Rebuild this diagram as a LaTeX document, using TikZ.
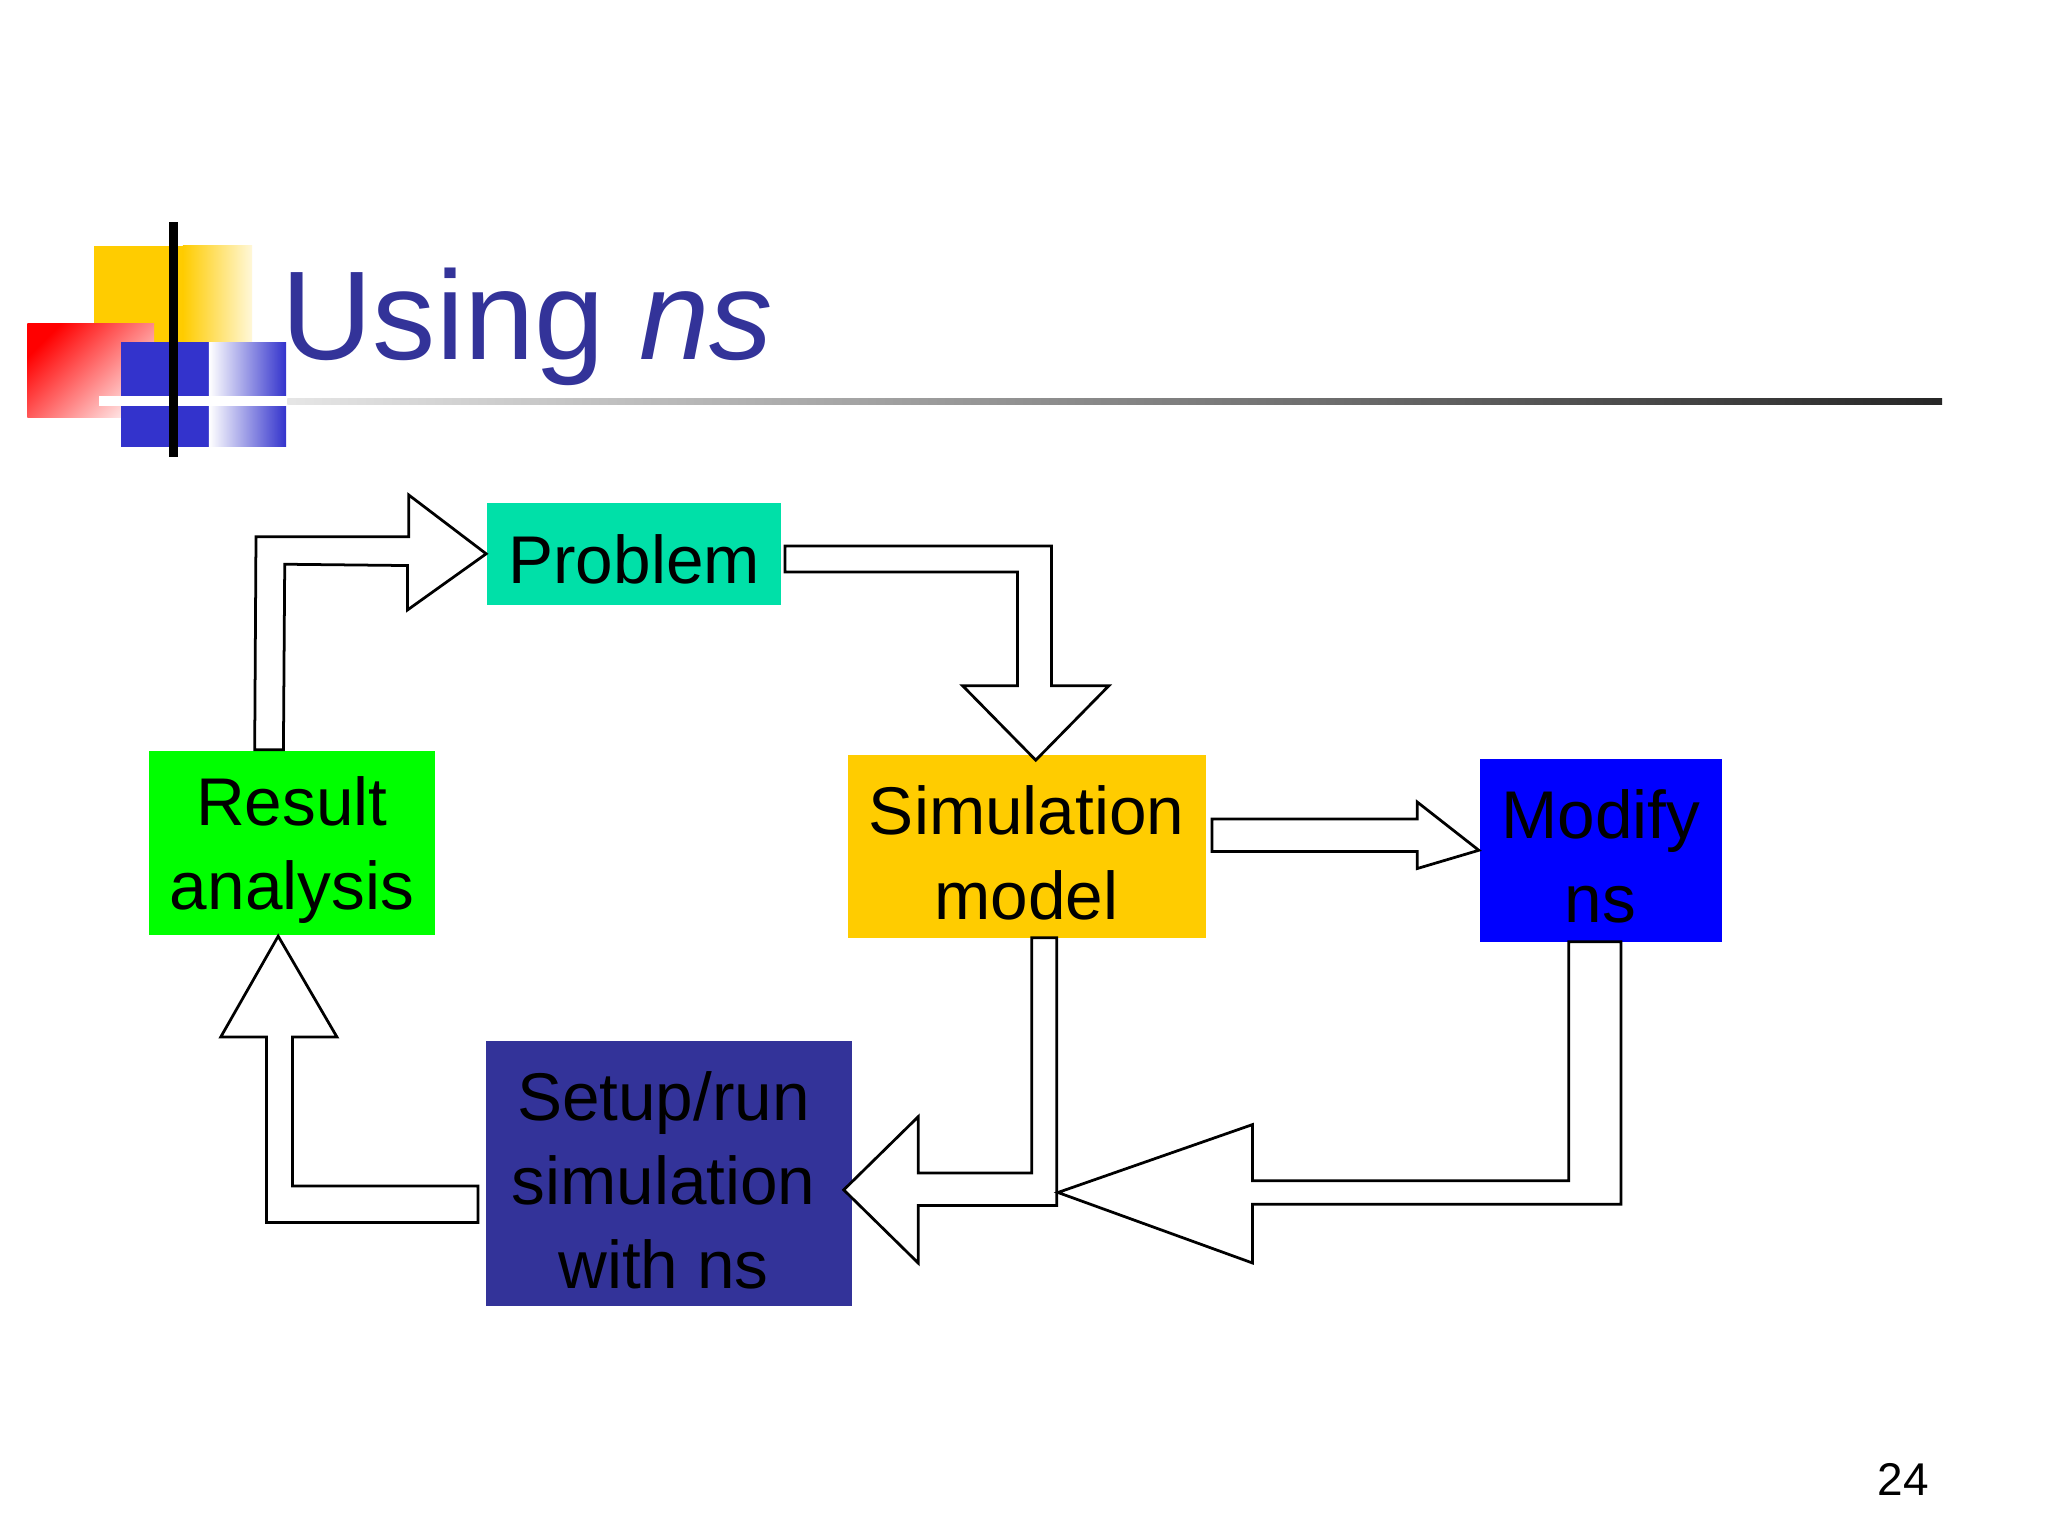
\documentclass[tikz,border=0pt]{standalone}
\usepackage{fontspec}
\setmainfont{Liberation Sans}
\definecolor{navy}{RGB}{51,51,153}
\definecolor{lblue}{RGB}{51,51,204}
\definecolor{teal}{RGB}{0,224,168}
\definecolor{gold}{RGB}{255,204,0}
\tikzset{box/.style={inner sep=0pt},
  lbl/.style={inner sep=0pt,align=center,font=\fontsize{14.7}{18.3}\selectfont},
  barrow/.style={draw=black,fill=white,line width=0.6pt,line join=miter}}
\begin{document}
\begin{tikzpicture}[x=0.01cm,y=-0.01cm]
\useasboundingbox (0,0) rectangle (1568,1176);
\fill[white] (0,0) rectangle (1568,1176);
% logo
\fill[gold] (72,188) rectangle (140,262);
\shade[left color=gold,right color=gold!15] (140,188) rectangle (193,262);
\shade[left color=red,right color=red!10,shading angle=45] (21,248) rectangle (118,320);
\fill[lblue] (93,262) rectangle (160,342);
\shade[left color=white,right color=lblue] (160,262) rectangle (219,342);
\draw[white,line width=2pt] (76,307) -- (220,307);
\draw[black,line width=2pt] (133,170) -- (133,350);
\shade[left color=gray!20,right color=black!85] (220,305) rectangle (1487,310);
\node[anchor=base west,text=navy,font=\fontsize{27.5}{28}\selectfont,inner sep=0pt] (title) at (215,275) {Using \textit{ns}};
% boxes
\node[box,fill=teal,minimum width=2.25cm,minimum height=0.78cm] (prob) at (485.5,424) {};
\node[box,fill=green,minimum width=2.19cm,minimum height=1.41cm] (res) at (223.5,645.5) {};
\node[box,fill=gold,minimum width=2.74cm,minimum height=1.40cm] (sim) at (786,648) {};
\node[box,fill=blue,minimum width=1.85cm,minimum height=1.40cm] (mod) at (1225.5,651) {};
\node[box,fill=navy,minimum width=2.80cm,minimum height=2.03cm] (setup) at (512,898.5) {};
% labels
\node[lbl] (probt) at (485.5,428) {Problem};
\node[lbl] (rest) at (223.5,651) {Result\\analysis};
\node[lbl] (simt) at (786,653) {Simulation\\model};
\node[lbl] (modt) at (1225.5,656) {Modify\\ns};
\node[lbl] (setupt) at (508,904) {Setup/run\\simulation\\with ns};
\coordinate (simtip) at (793,582);
\coordinate (setuptip) at (646,911);
% block arrows
\draw[barrow] (195,574) -- (196,411) -- (313,411) -- (313,379) -- (prob.west) -- (312,467) -- (312,433) -- (218,432) -- (217,574) -- cycle;
\draw[barrow] (601,418) -- (805,418) -- (805,525) -- (849,525) -- (simtip) -- (737,525) -- (779,525) -- (779,438) -- (601,438) -- cycle;
\draw[barrow] (928,627) -- (1085,627) -- (1085,614) -- (mod.west) -- (1085,665) -- (1085,652) -- (928,652) -- cycle;
\draw[barrow] (790,718) -- (809,718) -- (809,923) -- (703,923) -- (703,967) -- (setuptip) -- (703,855) -- (703,898) -- (790,898) -- cycle;
\draw[barrow] (1201,721) -- (1241,721) -- (1241,922) -- (959,922) -- (959,967) -- (810,913) -- (959,861) -- (959,904) -- (1201,904) -- cycle;
\draw[barrow] (366,908) -- (224,908) -- (224,794) -- (258,794) -- (res.south -| 213,0) -- (169,794) -- (204,794) -- (204,936) -- (366,936) -- cycle;
\node[font=\fontsize{10}{10}\selectfont] (pg) at (1457,1133) {24};
\end{tikzpicture}
\end{document}
